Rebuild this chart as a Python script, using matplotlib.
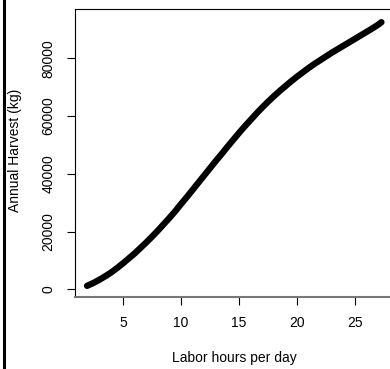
import matplotlib
matplotlib.use("Agg")
import matplotlib.pyplot as plt
from matplotlib.lines import Line2D

plt.rcParams['font.family'] = ['Liberation Sans', 'DejaVu Sans']

labor_hours = [1.9, 2.5, 3, 3.5, 4, 4.5, 5, 5.5, 6, 6.5, 7, 7.5, 8, 8.5, 9, 9.5,
               10, 10.5, 11, 11.5, 12, 12.5, 13, 13.5, 14, 14.5, 15, 15.5, 16,
               16.5, 17, 17.5, 18, 18.5, 19, 19.5, 20, 20.5, 21, 21.5, 22, 22.5,
               23, 23.5, 24, 24.5, 25, 25.5, 26, 26.5, 27, 27.3]
harvest = [1200, 2300, 3400, 4600, 5900, 7400, 9000, 10700, 12400, 14300, 16200,
           18200, 20300, 22500, 24700, 27000, 29500, 31900, 34400, 36900, 39400,
           41900, 44400, 46800, 49300, 51700, 54100, 56400, 58600, 60800, 62900,
           64900, 66800, 68600, 70300, 72000, 73600, 75100, 76600, 78000, 79300,
           80600, 81900, 83100, 84300, 85500, 86700, 87900, 89100, 90300, 91600,
           92500]
x_ticks = [5, 10, 15, 20, 25]
y_ticks = [0, 20000, 40000, 60000, 80000]

W, H = 390, 369
fig = plt.figure(figsize=(W / 100, H / 100), dpi=100)
ax = fig.add_axes([74.9 / W, 1 - 296.7 / H, (393 - 74.9) / W, (296.7 - 9.3) / H])

ax.plot(labor_hours, harvest, color='black', lw=4.6, solid_capstyle='round',
        solid_joinstyle='round')

ax.set_xlim(0.85, 28.3)
ax.set_ylim(-2560, 96970)
ax.set_xticks(x_ticks)
ax.set_yticks(y_ticks)
ax.set_yticklabels([str(v) for v in y_ticks], rotation=90, va='center')
ax.tick_params(direction='out', length=5.8, width=0.8, labelsize=10, pad=8,
               color='black')
for s in ['top', 'left', 'right']:
    ax.spines[s].set_color('black')
    ax.spines[s].set_linewidth(0.8)
ax.spines['bottom'].set_color('#777777')
ax.spines['bottom'].set_linewidth(1.5)

fig.text(234 / W, 1 - 358 / H, 'Labor hours per day', ha='center', va='center',
         fontsize=10)
fig.text(15 / W, 1 - 150 / H, 'Annual Harvest (kg)', ha='center', va='center',
         rotation=90, fontsize=10)
fig.add_artist(Line2D([4 / W, 4 / W], [0, 1], color='black', lw=2.2,
                      transform=fig.transFigure))

fig.savefig('out.png', dpi=100)
